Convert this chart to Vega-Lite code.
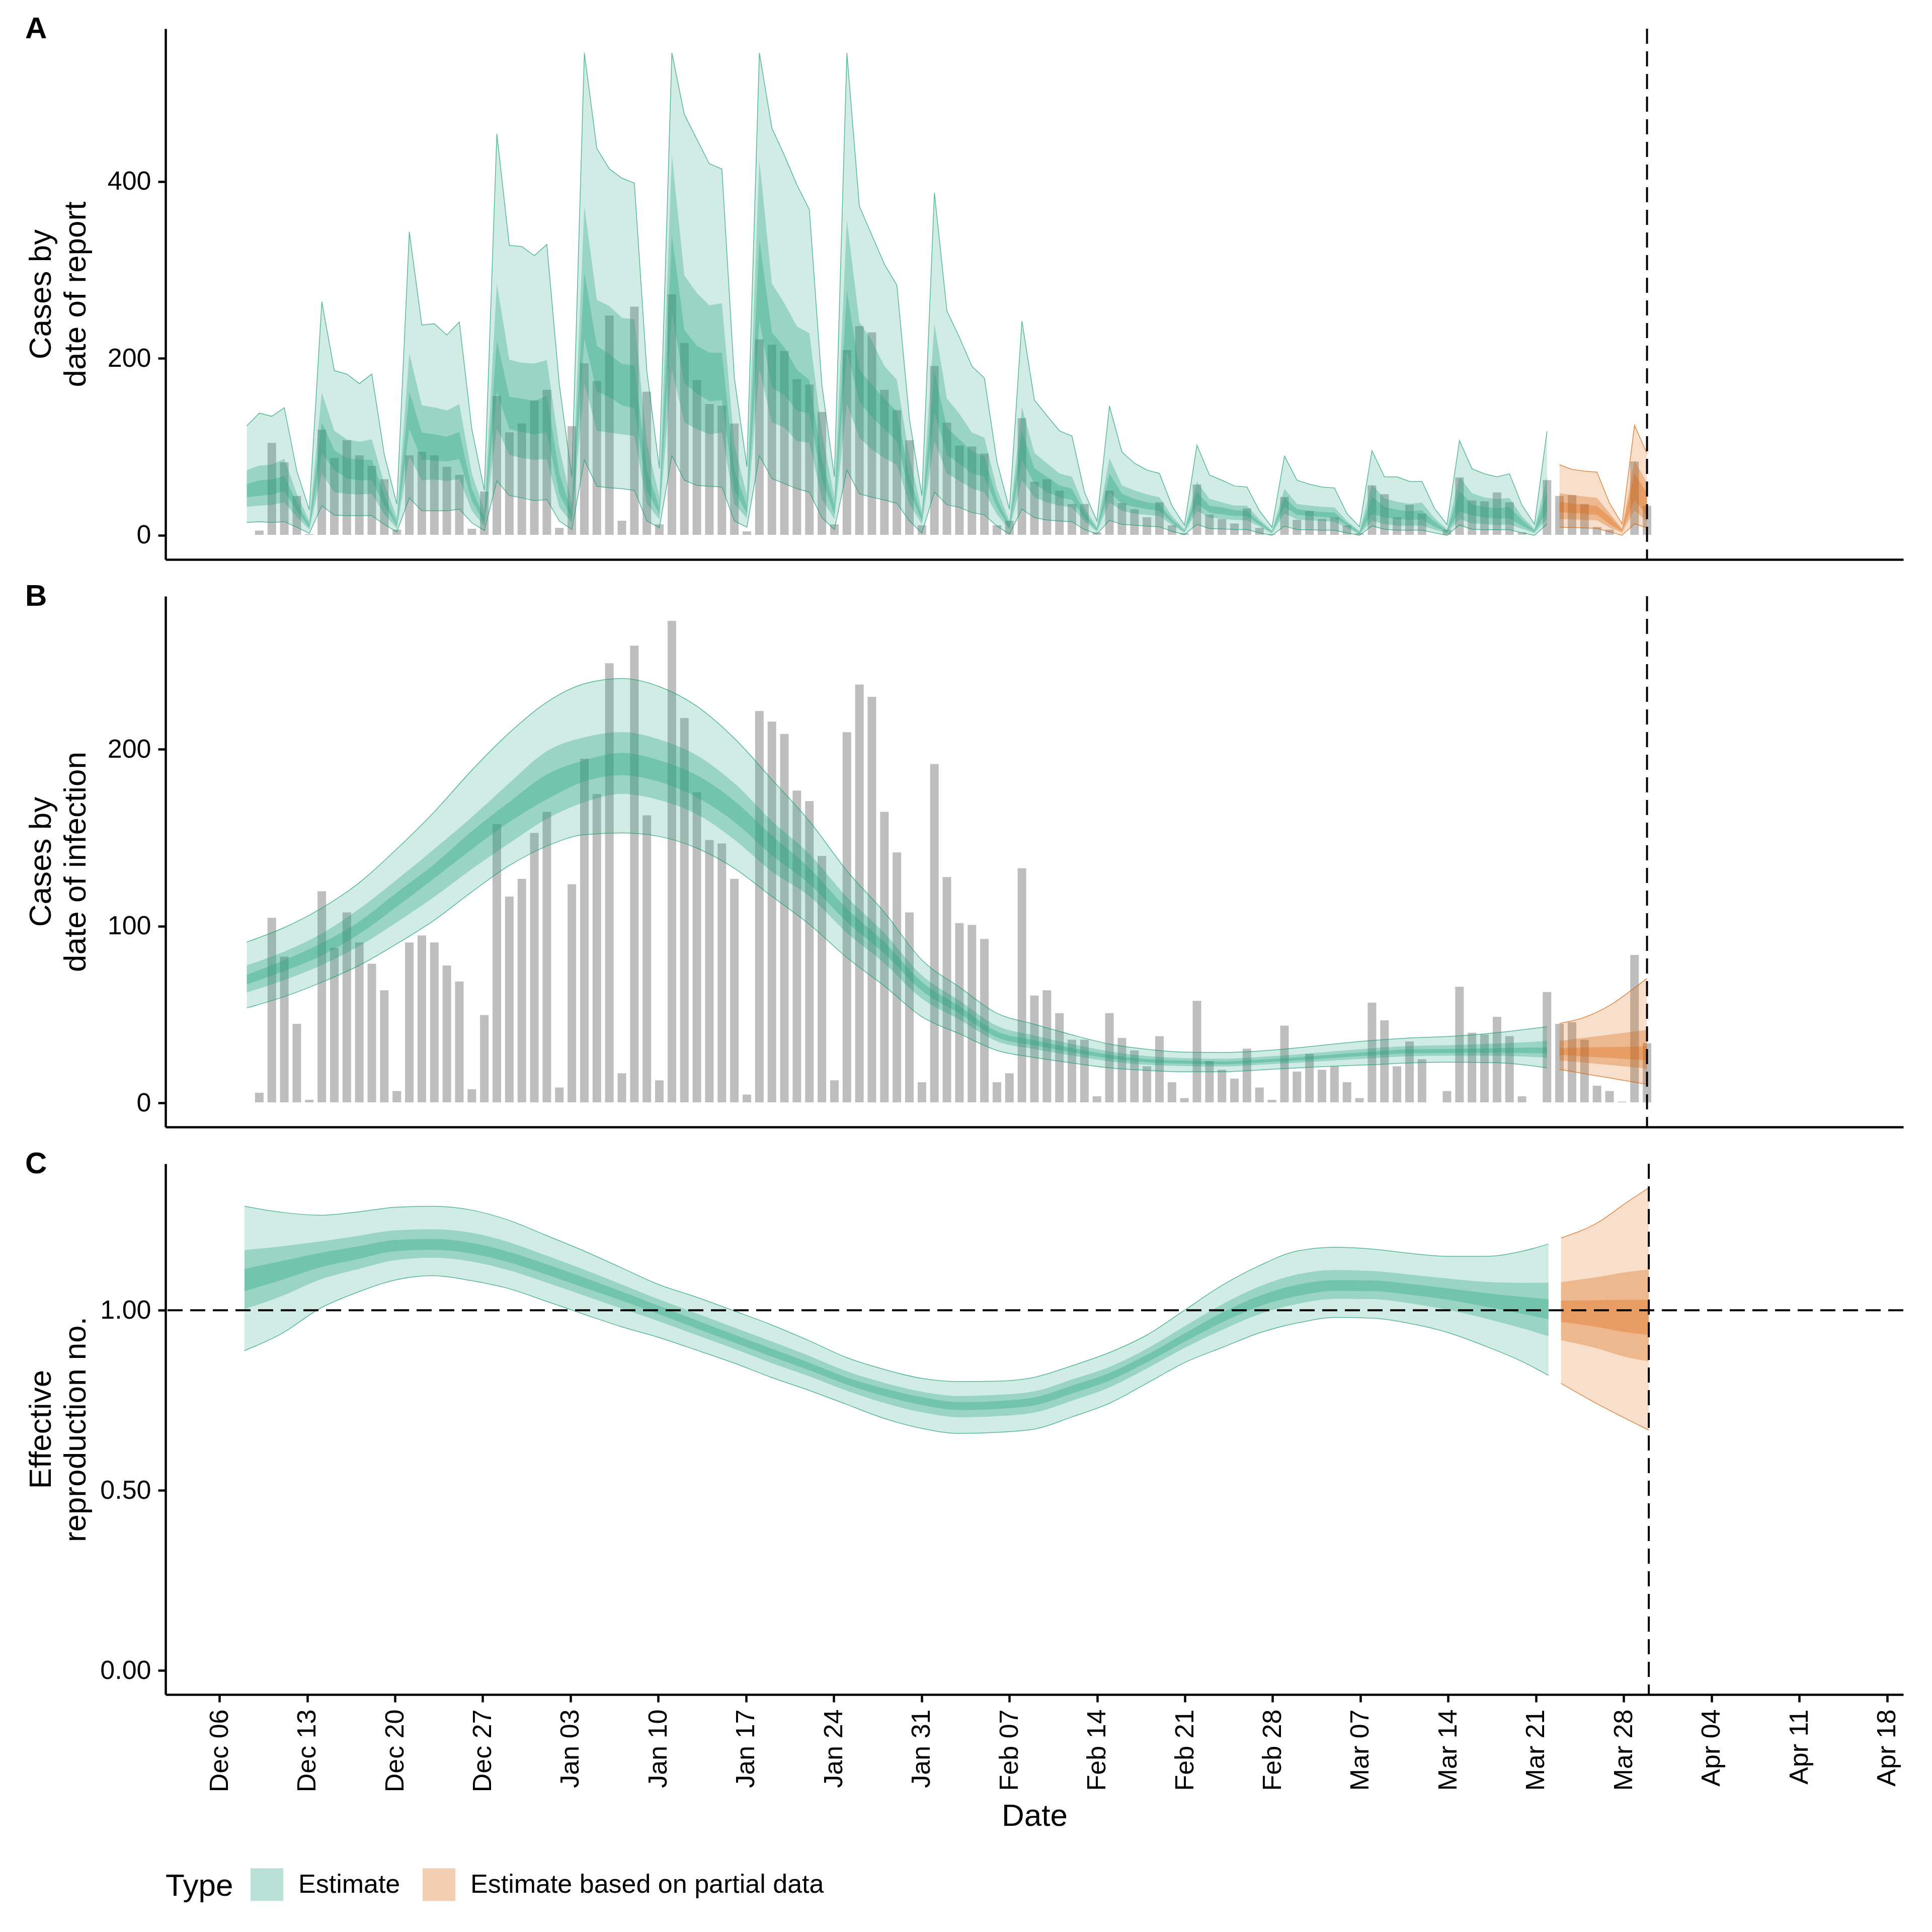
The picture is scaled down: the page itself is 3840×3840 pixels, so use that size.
{
  "$schema": "https://vega.github.io/schema/vega-lite/v6.json",
  "background": "white",
  "padding": {"left": 50, "top": 28, "right": 0, "bottom": 0},
  "config": {
    "font": "Liberation Sans",
    "view": {"stroke": null},
    "axis": {"domainColor": "black", "domainWidth": 4.5, "tickColor": "black", "tickWidth": 4.5, "tickSize": 15, "labelColor": "black", "labelFontSize": 52, "titleFontSize": 62, "titleFontWeight": "normal", "titleColor": "black", "grid": false, "labelPadding": 14},
    "title": {"color": "black"}
  },
  "resolve": {"scale": {"color": "independent"}},
  "spacing": 42,
  "datasets": {
    "last": [{"date": "2021-03-30"}],
    "one": [{"r": 1}],
    "bars": [
      {"date": "2020-12-09", "cases": 6}, {"date": "2020-12-10", "cases": 105}, {"date": "2020-12-11", "cases": 83}, {"date": "2020-12-12", "cases": 45}, {"date": "2020-12-13", "cases": 2}, {"date": "2020-12-14", "cases": 120}, {"date": "2020-12-15", "cases": 88}, {"date": "2020-12-16", "cases": 108}, {"date": "2020-12-17", "cases": 91}, {"date": "2020-12-18", "cases": 79}, {"date": "2020-12-19", "cases": 64}, {"date": "2020-12-20", "cases": 7}, {"date": "2020-12-21", "cases": 91}, {"date": "2020-12-22", "cases": 95}, {"date": "2020-12-23", "cases": 91}, {"date": "2020-12-24", "cases": 78}, {"date": "2020-12-25", "cases": 69}, {"date": "2020-12-26", "cases": 8}, {"date": "2020-12-27", "cases": 50}, {"date": "2020-12-28", "cases": 158}, {"date": "2020-12-29", "cases": 117}, {"date": "2020-12-30", "cases": 127}, {"date": "2020-12-31", "cases": 153},
      {"date": "2021-01-01", "cases": 165}, {"date": "2021-01-02", "cases": 9}, {"date": "2021-01-03", "cases": 124}, {"date": "2021-01-04", "cases": 195}, {"date": "2021-01-05", "cases": 175}, {"date": "2021-01-06", "cases": 249}, {"date": "2021-01-07", "cases": 17}, {"date": "2021-01-08", "cases": 259}, {"date": "2021-01-09", "cases": 163}, {"date": "2021-01-10", "cases": 13}, {"date": "2021-01-11", "cases": 273}, {"date": "2021-01-12", "cases": 218}, {"date": "2021-01-13", "cases": 176}, {"date": "2021-01-14", "cases": 149}, {"date": "2021-01-15", "cases": 147}, {"date": "2021-01-16", "cases": 127}, {"date": "2021-01-17", "cases": 5}, {"date": "2021-01-18", "cases": 222}, {"date": "2021-01-19", "cases": 216}, {"date": "2021-01-20", "cases": 209}, {"date": "2021-01-21", "cases": 177}, {"date": "2021-01-22", "cases": 171}, {"date": "2021-01-23", "cases": 140}, {"date": "2021-01-24", "cases": 13}, {"date": "2021-01-25", "cases": 210}, {"date": "2021-01-26", "cases": 237}, {"date": "2021-01-27", "cases": 230}, {"date": "2021-01-28", "cases": 165}, {"date": "2021-01-29", "cases": 142}, {"date": "2021-01-30", "cases": 108}, {"date": "2021-01-31", "cases": 12},
      {"date": "2021-02-01", "cases": 192}, {"date": "2021-02-02", "cases": 128}, {"date": "2021-02-03", "cases": 102}, {"date": "2021-02-04", "cases": 101}, {"date": "2021-02-05", "cases": 93}, {"date": "2021-02-06", "cases": 12}, {"date": "2021-02-07", "cases": 17}, {"date": "2021-02-08", "cases": 133}, {"date": "2021-02-09", "cases": 61}, {"date": "2021-02-10", "cases": 64}, {"date": "2021-02-11", "cases": 51}, {"date": "2021-02-12", "cases": 36}, {"date": "2021-02-13", "cases": 36}, {"date": "2021-02-14", "cases": 4}, {"date": "2021-02-15", "cases": 51}, {"date": "2021-02-16", "cases": 37}, {"date": "2021-02-17", "cases": 30}, {"date": "2021-02-18", "cases": 21}, {"date": "2021-02-19", "cases": 38}, {"date": "2021-02-20", "cases": 12}, {"date": "2021-02-21", "cases": 3}, {"date": "2021-02-22", "cases": 58}, {"date": "2021-02-23", "cases": 24}, {"date": "2021-02-24", "cases": 19}, {"date": "2021-02-25", "cases": 14}, {"date": "2021-02-26", "cases": 31}, {"date": "2021-02-27", "cases": 9}, {"date": "2021-02-28", "cases": 2},
      {"date": "2021-03-01", "cases": 44}, {"date": "2021-03-02", "cases": 18}, {"date": "2021-03-03", "cases": 28}, {"date": "2021-03-04", "cases": 19}, {"date": "2021-03-05", "cases": 21}, {"date": "2021-03-06", "cases": 12}, {"date": "2021-03-07", "cases": 3}, {"date": "2021-03-08", "cases": 57}, {"date": "2021-03-09", "cases": 47}, {"date": "2021-03-10", "cases": 21}, {"date": "2021-03-11", "cases": 35}, {"date": "2021-03-12", "cases": 25}, {"date": "2021-03-13", "cases": 0}, {"date": "2021-03-14", "cases": 7}, {"date": "2021-03-15", "cases": 66}, {"date": "2021-03-16", "cases": 40}, {"date": "2021-03-17", "cases": 39}, {"date": "2021-03-18", "cases": 49}, {"date": "2021-03-19", "cases": 38}, {"date": "2021-03-20", "cases": 4}, {"date": "2021-03-21", "cases": 0}, {"date": "2021-03-22", "cases": 63}, {"date": "2021-03-23", "cases": 45}, {"date": "2021-03-24", "cases": 46}, {"date": "2021-03-25", "cases": 36}, {"date": "2021-03-26", "cases": 10}, {"date": "2021-03-27", "cases": 7}, {"date": "2021-03-28", "cases": 1}, {"date": "2021-03-29", "cases": 84}, {"date": "2021-03-30", "cases": 34}
    ],
    "rep": [
      {"date": "2020-12-08", "type": "Estimate", "u90": 123.8, "u50": 73.8, "u20": 57.7, "l20": 43.1, "l50": 32.3, "l90": 14.6},
      {"date": "2020-12-09", "type": "Estimate", "u90": 138.1, "u50": 78.8, "u20": 62.3, "l20": 44.6, "l50": 33.5, "l90": 15.4},
      {"date": "2020-12-10", "type": "Estimate", "u90": 134.6, "u50": 80.0, "u20": 63.1, "l20": 46.2, "l50": 34.6, "l90": 14.6},
      {"date": "2020-12-11", "type": "Estimate", "u90": 144.2, "u50": 86.5, "u20": 66.9, "l20": 50.0, "l50": 37.3, "l90": 15.4},
      {"date": "2020-12-12", "type": "Estimate", "u90": 72.7, "u50": 46.9, "u20": 37.3, "l20": 27.7, "l50": 20.8, "l90": 9.2},
      {"date": "2020-12-13", "type": "Estimate", "u90": 28.8, "u50": 16.2, "u20": 12.3, "l20": 8.5, "l50": 6.5, "l90": 2.3},
      {"date": "2020-12-14", "type": "Estimate", "u90": 264.2, "u50": 161.5, "u20": 127.7, "l20": 93.1, "l50": 70.0, "l90": 33.5},
      {"date": "2020-12-15", "type": "Estimate", "u90": 186.2, "u50": 118.1, "u20": 96.2, "l20": 73.8, "l50": 48.8, "l90": 22.7},
      {"date": "2020-12-16", "type": "Estimate", "u90": 182.3, "u50": 108.5, "u20": 87.3, "l20": 64.2, "l50": 46.9, "l90": 22.3},
      {"date": "2020-12-17", "type": "Estimate", "u90": 171.5, "u50": 105.8, "u20": 85.4, "l20": 62.3, "l50": 46.2, "l90": 22.3},
      {"date": "2020-12-18", "type": "Estimate", "u90": 182.3, "u50": 108.5, "u20": 85.4, "l20": 62.3, "l50": 46.9, "l90": 22.3},
      {"date": "2020-12-19", "type": "Estimate", "u90": 91.2, "u50": 58.5, "u20": 45.0, "l20": 33.5, "l50": 23.8, "l90": 12.3},
      {"date": "2020-12-20", "type": "Estimate", "u90": 35.4, "u50": 20.0, "u20": 14.2, "l20": 10.4, "l50": 7.7, "l90": 3.8},
      {"date": "2020-12-21", "type": "Estimate", "u90": 343.1, "u50": 205.8, "u20": 162.3, "l20": 120.0, "l50": 89.2, "l90": 42.3},
      {"date": "2020-12-22", "type": "Estimate", "u90": 237.7, "u50": 146.9, "u20": 116.2, "l20": 85.4, "l50": 62.3, "l90": 27.7},
      {"date": "2020-12-23", "type": "Estimate", "u90": 239.2, "u50": 144.6, "u20": 114.2, "l20": 84.6, "l50": 63.1, "l90": 27.7},
      {"date": "2020-12-24", "type": "Estimate", "u90": 226.5, "u50": 141.2, "u20": 111.5, "l20": 83.5, "l50": 61.5, "l90": 27.7},
      {"date": "2020-12-25", "type": "Estimate", "u90": 241.2, "u50": 148.1, "u20": 116.9, "l20": 86.2, "l50": 63.5, "l90": 29.6},
      {"date": "2020-12-26", "type": "Estimate", "u90": 120.0, "u50": 70.0, "u20": 52.7, "l20": 39.2, "l50": 27.7, "l90": 14.2},
      {"date": "2020-12-27", "type": "Estimate", "u90": 50.8, "u50": 27.7, "u20": 20.0, "l20": 14.2, "l50": 10.4, "l90": 5.4},
      {"date": "2020-12-28", "type": "Estimate", "u90": 453.8, "u50": 284.6, "u20": 220.8, "l20": 162.3, "l50": 120.8, "l90": 61.5},
      {"date": "2020-12-29", "type": "Estimate", "u90": 327.7, "u50": 198.5, "u20": 156.5, "l20": 120.0, "l50": 91.2, "l90": 45.0},
      {"date": "2020-12-30", "type": "Estimate", "u90": 326.5, "u50": 195.0, "u20": 154.6, "l20": 116.9, "l50": 87.3, "l90": 42.3},
      {"date": "2020-12-31", "type": "Estimate", "u90": 316.2, "u50": 194.2, "u20": 151.9, "l20": 114.2, "l50": 85.4, "l90": 39.2},
      {"date": "2021-01-01", "type": "Estimate", "u90": 328.8, "u50": 198.1, "u20": 157.7, "l20": 116.2, "l50": 86.2, "l90": 40.4},
      {"date": "2021-01-02", "type": "Estimate", "u90": 170.0, "u50": 98.8, "u20": 70.0, "l20": 46.9, "l50": 31.5, "l90": 16.2},
      {"date": "2021-01-03", "type": "Estimate", "u90": 66.2, "u50": 35.4, "u20": 25.8, "l20": 19.2, "l50": 14.2, "l90": 6.5},
      {"date": "2021-01-04", "type": "Estimate", "u90": 545.4, "u50": 371.9, "u20": 296.9, "l20": 221.9, "l50": 171.9, "l90": 85.4},
      {"date": "2021-01-05", "type": "Estimate", "u90": 437.3, "u50": 266.2, "u20": 214.2, "l20": 162.3, "l50": 118.1, "l90": 55.4},
      {"date": "2021-01-06", "type": "Estimate", "u90": 414.2, "u50": 259.2, "u20": 204.6, "l20": 156.5, "l50": 116.2, "l90": 53.8},
      {"date": "2021-01-07", "type": "Estimate", "u90": 403.8, "u50": 245.8, "u20": 193.8, "l20": 146.9, "l50": 114.2, "l90": 52.7},
      {"date": "2021-01-08", "type": "Estimate", "u90": 398.1, "u50": 244.2, "u20": 191.9, "l20": 143.8, "l50": 112.3, "l90": 50.8},
      {"date": "2021-01-09", "type": "Estimate", "u90": 185.4, "u50": 104.6, "u20": 73.8, "l20": 50.8, "l50": 35.4, "l90": 16.2},
      {"date": "2021-01-10", "type": "Estimate", "u90": 75.8, "u50": 43.1, "u20": 31.5, "l20": 23.8, "l50": 18.1, "l90": 8.5},
      {"date": "2021-01-11", "type": "Estimate", "u90": 545.4, "u50": 429.6, "u20": 340.0, "l20": 251.5, "l50": 188.1, "l90": 90.0},
      {"date": "2021-01-12", "type": "Estimate", "u90": 475.8, "u50": 293.8, "u20": 232.3, "l20": 171.9, "l50": 127.7, "l90": 62.3},
      {"date": "2021-01-13", "type": "Estimate", "u90": 447.7, "u50": 273.8, "u20": 214.2, "l20": 160.4, "l50": 120.0, "l90": 56.5},
      {"date": "2021-01-14", "type": "Estimate", "u90": 420.0, "u50": 260.0, "u20": 206.5, "l20": 151.5, "l50": 114.2, "l90": 55.4},
      {"date": "2021-01-15", "type": "Estimate", "u90": 414.2, "u50": 262.3, "u20": 206.5, "l20": 152.7, "l50": 116.2, "l90": 54.6},
      {"date": "2021-01-16", "type": "Estimate", "u90": 177.7, "u50": 102.7, "u20": 73.8, "l20": 50.8, "l50": 35.4, "l90": 16.2},
      {"date": "2021-01-17", "type": "Estimate", "u90": 77.7, "u50": 45.0, "u20": 33.5, "l20": 24.6, "l50": 19.2, "l90": 9.2},
      {"date": "2021-01-18", "type": "Estimate", "u90": 545.4, "u50": 423.8, "u20": 334.6, "l20": 243.1, "l50": 188.1, "l90": 90.0},
      {"date": "2021-01-19", "type": "Estimate", "u90": 460.4, "u50": 284.6, "u20": 229.6, "l20": 166.9, "l50": 127.7, "l90": 64.2},
      {"date": "2021-01-20", "type": "Estimate", "u90": 429.6, "u50": 262.3, "u20": 212.3, "l20": 158.5, "l50": 121.9, "l90": 58.5},
      {"date": "2021-01-21", "type": "Estimate", "u90": 396.2, "u50": 236.2, "u20": 187.3, "l20": 141.2, "l50": 106.5, "l90": 52.7},
      {"date": "2021-01-22", "type": "Estimate", "u90": 368.1, "u50": 228.5, "u20": 175.8, "l20": 137.3, "l50": 104.6, "l90": 48.8},
      {"date": "2021-01-23", "type": "Estimate", "u90": 170.0, "u50": 116.2, "u20": 85.4, "l20": 62.3, "l50": 41.2, "l90": 20.0},
      {"date": "2021-01-24", "type": "Estimate", "u90": 66.2, "u50": 43.1, "u20": 33.5, "l20": 23.8, "l50": 18.1, "l90": 6.5},
      {"date": "2021-01-25", "type": "Estimate", "u90": 545.4, "u50": 356.5, "u20": 276.9, "l20": 208.5, "l50": 148.8, "l90": 73.8},
      {"date": "2021-01-26", "type": "Estimate", "u90": 371.9, "u50": 241.2, "u20": 187.3, "l20": 150.8, "l50": 110.4, "l90": 46.9},
      {"date": "2021-01-27", "type": "Estimate", "u90": 339.2, "u50": 220.0, "u20": 170.0, "l20": 133.5, "l50": 96.9, "l90": 43.1},
      {"date": "2021-01-28", "type": "Estimate", "u90": 306.5, "u50": 191.2, "u20": 154.6, "l20": 120.0, "l50": 87.3, "l90": 40.0},
      {"date": "2021-01-29", "type": "Estimate", "u90": 282.7, "u50": 175.8, "u20": 140.0, "l20": 106.5, "l50": 79.6, "l90": 36.2},
      {"date": "2021-01-30", "type": "Estimate", "u90": 131.5, "u50": 89.2, "u20": 66.2, "l20": 48.8, "l50": 35.4, "l90": 16.2},
      {"date": "2021-01-31", "type": "Estimate", "u90": 45.0, "u50": 27.7, "u20": 21.9, "l20": 16.2, "l50": 12.3, "l90": 2.7},
      {"date": "2021-02-01", "type": "Estimate", "u90": 387.3, "u50": 239.2, "u20": 185.4, "l20": 139.2, "l50": 106.5, "l90": 48.8},
      {"date": "2021-02-02", "type": "Estimate", "u90": 253.8, "u50": 154.6, "u20": 121.9, "l20": 91.2, "l50": 70.0, "l90": 34.6},
      {"date": "2021-02-03", "type": "Estimate", "u90": 223.8, "u50": 137.3, "u20": 108.5, "l20": 80.8, "l50": 61.5, "l90": 31.5},
      {"date": "2021-02-04", "type": "Estimate", "u90": 191.2, "u50": 116.2, "u20": 95.0, "l20": 70.0, "l50": 52.7, "l90": 25.8},
      {"date": "2021-02-05", "type": "Estimate", "u90": 177.7, "u50": 110.4, "u20": 89.2, "l20": 66.2, "l50": 48.8, "l90": 23.1},
      {"date": "2021-02-06", "type": "Estimate", "u90": 83.5, "u50": 52.7, "u20": 41.2, "l20": 31.5, "l50": 23.8, "l90": 10.4},
      {"date": "2021-02-07", "type": "Estimate", "u90": 29.6, "u50": 16.2, "u20": 12.3, "l20": 8.5, "l50": 6.2, "l90": 1.5},
      {"date": "2021-02-08", "type": "Estimate", "u90": 242.3, "u50": 145.0, "u20": 118.1, "l20": 85.4, "l50": 62.3, "l90": 29.6},
      {"date": "2021-02-09", "type": "Estimate", "u90": 152.7, "u50": 93.1, "u20": 75.8, "l20": 58.5, "l50": 43.1, "l90": 20.0},
      {"date": "2021-02-10", "type": "Estimate", "u90": 135.4, "u50": 81.5, "u20": 66.2, "l20": 48.8, "l50": 37.3, "l90": 17.3},
      {"date": "2021-02-11", "type": "Estimate", "u90": 118.1, "u50": 70.0, "u20": 56.5, "l20": 43.1, "l50": 33.5, "l90": 16.2},
      {"date": "2021-02-12", "type": "Estimate", "u90": 112.3, "u50": 66.2, "u20": 52.7, "l20": 40.0, "l50": 31.5, "l90": 15.4},
      {"date": "2021-02-13", "type": "Estimate", "u90": 48.8, "u50": 31.5, "u20": 25.8, "l20": 20.0, "l50": 16.2, "l90": 6.5},
      {"date": "2021-02-14", "type": "Estimate", "u90": 16.2, "u50": 9.2, "u20": 7.3, "l20": 5.4, "l50": 3.8, "l90": 1.5},
      {"date": "2021-02-15", "type": "Estimate", "u90": 146.2, "u50": 87.3, "u20": 70.0, "l20": 48.8, "l50": 37.3, "l90": 16.9},
      {"date": "2021-02-16", "type": "Estimate", "u90": 94.2, "u50": 56.5, "u20": 46.9, "l20": 35.4, "l50": 27.7, "l90": 12.3},
      {"date": "2021-02-17", "type": "Estimate", "u90": 81.5, "u50": 50.8, "u20": 41.2, "l20": 32.3, "l50": 24.6, "l90": 11.5},
      {"date": "2021-02-18", "type": "Estimate", "u90": 73.8, "u50": 46.2, "u20": 37.3, "l20": 29.6, "l50": 23.1, "l90": 10.4},
      {"date": "2021-02-19", "type": "Estimate", "u90": 70.0, "u50": 43.1, "u20": 35.4, "l20": 27.7, "l50": 21.9, "l90": 9.6},
      {"date": "2021-02-20", "type": "Estimate", "u90": 33.5, "u50": 21.9, "u20": 18.1, "l20": 14.2, "l50": 11.5, "l90": 4.6},
      {"date": "2021-02-21", "type": "Estimate", "u90": 11.5, "u50": 6.5, "u20": 5.4, "l20": 4.2, "l50": 3.1, "l90": 0.8},
      {"date": "2021-02-22", "type": "Estimate", "u90": 101.9, "u50": 60.4, "u20": 48.8, "l20": 35.4, "l50": 27.7, "l90": 12.3},
      {"date": "2021-02-23", "type": "Estimate", "u90": 68.1, "u50": 41.2, "u20": 33.5, "l20": 25.8, "l50": 20.0, "l90": 7.7},
      {"date": "2021-02-24", "type": "Estimate", "u90": 62.3, "u50": 37.3, "u20": 31.5, "l20": 23.8, "l50": 18.8, "l90": 7.3},
      {"date": "2021-02-25", "type": "Estimate", "u90": 55.8, "u50": 33.5, "u20": 28.5, "l20": 21.9, "l50": 17.3, "l90": 6.5},
      {"date": "2021-02-26", "type": "Estimate", "u90": 54.6, "u50": 33.5, "u20": 27.7, "l20": 21.9, "l50": 16.9, "l90": 6.5},
      {"date": "2021-02-27", "type": "Estimate", "u90": 27.7, "u50": 18.1, "u20": 15.4, "l20": 12.3, "l50": 10.0, "l90": 2.7},
      {"date": "2021-02-28", "type": "Estimate", "u90": 9.2, "u50": 5.4, "u20": 4.2, "l20": 3.1, "l50": 1.9, "l90": 0},
      {"date": "2021-03-01", "type": "Estimate", "u90": 89.5, "u50": 52.7, "u20": 42.3, "l20": 32.3, "l50": 24.6, "l90": 10.4},
      {"date": "2021-03-02", "type": "Estimate", "u90": 62.3, "u50": 35.4, "u20": 29.6, "l20": 23.1, "l50": 18.1, "l90": 6.5},
      {"date": "2021-03-03", "type": "Estimate", "u90": 57.7, "u50": 33.5, "u20": 27.7, "l20": 21.9, "l50": 16.9, "l90": 6.2},
      {"date": "2021-03-04", "type": "Estimate", "u90": 54.6, "u50": 32.3, "u20": 26.5, "l20": 20.8, "l50": 16.2, "l90": 5.8},
      {"date": "2021-03-05", "type": "Estimate", "u90": 53.5, "u50": 31.5, "u20": 25.8, "l20": 20.0, "l50": 15.4, "l90": 5.8},
      {"date": "2021-03-06", "type": "Estimate", "u90": 24.6, "u50": 16.2, "u20": 13.8, "l20": 11.2, "l50": 8.5, "l90": 2.7},
      {"date": "2021-03-07", "type": "Estimate", "u90": 9.7, "u50": 4.9, "u20": 3.5, "l20": 1.9, "l50": 1.0, "l90": 0},
      {"date": "2021-03-08", "type": "Estimate", "u90": 95.7, "u50": 57.4, "u20": 43.8, "l20": 24.3, "l50": 16.5, "l90": 10.7},
      {"date": "2021-03-09", "type": "Estimate", "u90": 66.1, "u50": 41.8, "u20": 32.1, "l20": 20.4, "l50": 12.6, "l90": 6.8},
      {"date": "2021-03-10", "type": "Estimate", "u90": 66.1, "u50": 37.9, "u20": 29.2, "l20": 18.5, "l50": 11.1, "l90": 5.8},
      {"date": "2021-03-11", "type": "Estimate", "u90": 60.9, "u50": 35.6, "u20": 27.2, "l20": 17.5, "l50": 10.7, "l90": 5.8},
      {"date": "2021-03-12", "type": "Estimate", "u90": 60.9, "u50": 37.0, "u20": 28.2, "l20": 18.1, "l50": 11.1, "l90": 5.8},
      {"date": "2021-03-13", "type": "Estimate", "u90": 30.5, "u50": 19.5, "u20": 15.6, "l20": 9.7, "l50": 6.4, "l90": 2.9},
      {"date": "2021-03-14", "type": "Estimate", "u90": 12.1, "u50": 6.8, "u20": 5.3, "l20": 3.5, "l50": 2.3, "l90": 0},
      {"date": "2021-03-15", "type": "Estimate", "u90": 107.0, "u50": 66.1, "u20": 50.0, "l20": 27.2, "l50": 18.5, "l90": 11.7},
      {"date": "2021-03-16", "type": "Estimate", "u90": 75.3, "u50": 47.7, "u20": 35.0, "l20": 22.4, "l50": 13.6, "l90": 6.8},
      {"date": "2021-03-17", "type": "Estimate", "u90": 69.5, "u50": 42.8, "u20": 32.1, "l20": 20.4, "l50": 12.6, "l90": 6.4},
      {"date": "2021-03-18", "type": "Estimate", "u90": 66.1, "u50": 40.9, "u20": 30.5, "l20": 18.9, "l50": 11.7, "l90": 6.4},
      {"date": "2021-03-19", "type": "Estimate", "u90": 69.5, "u50": 42.2, "u20": 32.1, "l20": 19.5, "l50": 12.3, "l90": 6.4},
      {"date": "2021-03-20", "type": "Estimate", "u90": 34.0, "u50": 21.4, "u20": 17.5, "l20": 10.7, "l50": 7.2, "l90": 2.9},
      {"date": "2021-03-21", "type": "Estimate", "u90": 12.6, "u50": 7.2, "u20": 5.6, "l20": 3.9, "l50": 2.5, "l90": 0},
      {"date": "2021-03-22", "type": "Estimate", "u90": 117.7, "u50": 66.1, "u20": 49.6, "l20": 26.3, "l50": 18.5, "l90": 12.6},
      {"date": "2021-03-23", "type": "Estimate based on partial data", "u90": 79.8, "u50": 47.7, "u20": 37.9, "l20": 26.3, "l50": 18.5, "l90": 9.1},
      {"date": "2021-03-24", "type": "Estimate based on partial data", "u90": 74.5, "u50": 45.7, "u20": 36.0, "l20": 25.3, "l50": 18.1, "l90": 8.8},
      {"date": "2021-03-25", "type": "Estimate based on partial data", "u90": 72.6, "u50": 43.8, "u20": 34.4, "l20": 24.3, "l50": 17.5, "l90": 8.4},
      {"date": "2021-03-26", "type": "Estimate based on partial data", "u90": 71.4, "u50": 42.2, "u20": 33.1, "l20": 23.3, "l50": 16.9, "l90": 7.8},
      {"date": "2021-03-27", "type": "Estimate based on partial data", "u90": 36.4, "u50": 25.3, "u20": 21.4, "l20": 12.6, "l50": 8.8, "l90": 3.9},
      {"date": "2021-03-28", "type": "Estimate based on partial data", "u90": 13.0, "u50": 7.8, "u20": 6.4, "l20": 4.5, "l50": 2.9, "l90": 0},
      {"date": "2021-03-29", "type": "Estimate based on partial data", "u90": 124.5, "u50": 84.6, "u20": 70.0, "l20": 39.9, "l50": 28.2, "l90": 13.0},
      {"date": "2021-03-30", "type": "Estimate based on partial data", "u90": 92.4, "u50": 59.3, "u20": 47.7, "l20": 22.4, "l50": 15.6, "l90": 8.4}
    ],
    "inf": [
      {"date": "2020-12-08", "type": "Estimate", "u90": 91.0, "u50": 77.8, "u20": 72.5, "l20": 67.1, "l50": 62.5, "l90": 53.7},
      {"date": "2020-12-11", "type": "Estimate", "u90": 99.2, "u50": 85.6, "u20": 80.8, "l20": 74.6, "l50": 69.5, "l90": 60.1},
      {"date": "2020-12-14", "type": "Estimate", "u90": 110.2, "u50": 95.8, "u20": 90.4, "l20": 83.4, "l50": 78.0, "l90": 68.3},
      {"date": "2020-12-17", "type": "Estimate", "u90": 124.6, "u50": 109.8, "u20": 102.6, "l20": 95.6, "l50": 88.8, "l90": 77.8},
      {"date": "2020-12-20", "type": "Estimate", "u90": 143.7, "u50": 126.3, "u20": 119.0, "l20": 111.0, "l50": 102.2, "l90": 90.0},
      {"date": "2020-12-23", "type": "Estimate", "u90": 164.7, "u50": 143.7, "u20": 135.1, "l20": 127.1, "l50": 116.6, "l90": 103.4},
      {"date": "2020-12-26", "type": "Estimate", "u90": 188.2, "u50": 161.7, "u20": 153.7, "l20": 143.5, "l50": 132.3, "l90": 119.4},
      {"date": "2020-12-29", "type": "Estimate", "u90": 209.4, "u50": 181.0, "u20": 170.3, "l20": 158.9, "l50": 146.9, "l90": 134.3},
      {"date": "2021-01-01", "type": "Estimate", "u90": 226.7, "u50": 199.0, "u20": 185.8, "l20": 171.7, "l50": 160.7, "l90": 145.3},
      {"date": "2021-01-04", "type": "Estimate", "u90": 237.1, "u50": 206.8, "u20": 193.8, "l20": 181.8, "l50": 170.1, "l90": 151.7},
      {"date": "2021-01-07", "type": "Estimate", "u90": 240.1, "u50": 209.8, "u20": 198.0, "l20": 185.4, "l50": 174.8, "l90": 152.7},
      {"date": "2021-01-10", "type": "Estimate", "u90": 235.5, "u50": 205.6, "u20": 193.8, "l20": 181.6, "l50": 171.3, "l90": 150.7},
      {"date": "2021-01-13", "type": "Estimate", "u90": 224.4, "u50": 196.6, "u20": 185.4, "l20": 172.9, "l50": 163.3, "l90": 144.1},
      {"date": "2021-01-16", "type": "Estimate", "u90": 206.2, "u50": 180.8, "u20": 170.9, "l20": 158.9, "l50": 148.9, "l90": 132.7},
      {"date": "2021-01-19", "type": "Estimate", "u90": 183.0, "u50": 159.5, "u20": 151.3, "l20": 140.1, "l50": 130.9, "l90": 116.8},
      {"date": "2021-01-22", "type": "Estimate", "u90": 159.4, "u50": 140.8, "u20": 132.8, "l20": 123.8, "l50": 116.9, "l90": 101.0},
      {"date": "2021-01-25", "type": "Estimate", "u90": 131.3, "u50": 116.4, "u20": 109.9, "l20": 102.3, "l50": 96.2, "l90": 82.2},
      {"date": "2021-01-28", "type": "Estimate", "u90": 107.8, "u50": 96.0, "u20": 90.9, "l20": 84.5, "l50": 78.9, "l90": 66.1},
      {"date": "2021-01-31", "type": "Estimate", "u90": 80.8, "u50": 72.1, "u20": 68.4, "l20": 63.4, "l50": 59.0, "l90": 48.7},
      {"date": "2021-02-03", "type": "Estimate", "u90": 65.5, "u50": 57.9, "u20": 54.7, "l20": 50.6, "l50": 47.1, "l90": 39.1},
      {"date": "2021-02-06", "type": "Estimate", "u90": 50.7, "u50": 43.6, "u20": 40.4, "l20": 37.1, "l50": 34.9, "l90": 29.7},
      {"date": "2021-02-09", "type": "Estimate", "u90": 44.5, "u50": 38.1, "u20": 35.4, "l20": 32.5, "l50": 30.4, "l90": 25.7},
      {"date": "2021-02-12", "type": "Estimate", "u90": 38.5, "u50": 33.3, "u20": 31.1, "l20": 28.6, "l50": 26.8, "l90": 22.6},
      {"date": "2021-02-15", "type": "Estimate", "u90": 33.3, "u50": 29.1, "u20": 27.2, "l20": 25.1, "l50": 23.5, "l90": 19.8},
      {"date": "2021-02-18", "type": "Estimate", "u90": 30.3, "u50": 26.5, "u20": 24.8, "l20": 23.0, "l50": 21.6, "l90": 18.4},
      {"date": "2021-02-21", "type": "Estimate", "u90": 28.7, "u50": 25.3, "u20": 23.9, "l20": 22.2, "l50": 20.8, "l90": 17.6},
      {"date": "2021-02-24", "type": "Estimate", "u90": 28.5, "u50": 25.0, "u20": 23.5, "l20": 21.8, "l50": 20.6, "l90": 17.6},
      {"date": "2021-02-27", "type": "Estimate", "u90": 29.3, "u50": 26.0, "u20": 24.5, "l20": 22.8, "l50": 21.6, "l90": 18.6},
      {"date": "2021-03-02", "type": "Estimate", "u90": 31.1, "u50": 27.4, "u20": 25.8, "l20": 24.0, "l50": 22.7, "l90": 19.8},
      {"date": "2021-03-05", "type": "Estimate", "u90": 33.3, "u50": 29.2, "u20": 27.4, "l20": 25.5, "l50": 24.0, "l90": 20.8},
      {"date": "2021-03-08", "type": "Estimate", "u90": 35.3, "u50": 30.9, "u20": 29.0, "l20": 26.9, "l50": 25.3, "l90": 21.6},
      {"date": "2021-03-11", "type": "Estimate", "u90": 36.7, "u50": 32.2, "u20": 30.3, "l20": 28.1, "l50": 26.4, "l90": 22.6},
      {"date": "2021-03-14", "type": "Estimate", "u90": 37.5, "u50": 32.6, "u20": 30.5, "l20": 28.2, "l50": 26.7, "l90": 23.0},
      {"date": "2021-03-18", "type": "Estimate", "u90": 39.7, "u50": 33.6, "u20": 31.0, "l20": 28.4, "l50": 26.7, "l90": 22.7},
      {"date": "2021-03-22", "type": "Estimate", "u90": 43.1, "u50": 35.0, "u20": 31.5, "l20": 27.9, "l50": 25.5, "l90": 19.8},
      {"date": "2021-03-23", "type": "Estimate based on partial data", "u90": 45.0, "u50": 35.1, "u20": 31.1, "l20": 27.2, "l50": 24.1, "l90": 18.9},
      {"date": "2021-03-25", "type": "Estimate based on partial data", "u90": 48.4, "u50": 36.9, "u20": 31.3, "l20": 26.3, "l50": 22.8, "l90": 16.5},
      {"date": "2021-03-27", "type": "Estimate based on partial data", "u90": 55.1, "u50": 38.6, "u20": 31.6, "l20": 25.4, "l50": 21.4, "l90": 14.1},
      {"date": "2021-03-29", "type": "Estimate based on partial data", "u90": 65.1, "u50": 40.4, "u20": 31.8, "l20": 24.5, "l50": 20.1, "l90": 11.7},
      {"date": "2021-03-30", "type": "Estimate based on partial data", "u90": 70.5, "u50": 41.3, "u20": 31.9, "l20": 24.1, "l50": 19.4, "l90": 10.5}
    ],
    "rt": [
      {"date": "2020-12-08", "type": "Estimate", "u90": 1.289, "u50": 1.167, "u20": 1.115, "l20": 1.053, "l50": 1.003, "l90": 0.888},
      {"date": "2020-12-11", "type": "Estimate", "u90": 1.272, "u50": 1.178, "u20": 1.137, "l20": 1.085, "l50": 1.040, "l90": 0.936},
      {"date": "2020-12-14", "type": "Estimate", "u90": 1.264, "u50": 1.191, "u20": 1.159, "l20": 1.119, "l50": 1.085, "l90": 1.005},
      {"date": "2020-12-17", "type": "Estimate", "u90": 1.273, "u50": 1.206, "u20": 1.177, "l20": 1.142, "l50": 1.114, "l90": 1.050},
      {"date": "2020-12-20", "type": "Estimate", "u90": 1.286, "u50": 1.222, "u20": 1.195, "l20": 1.164, "l50": 1.139, "l90": 1.084},
      {"date": "2020-12-23", "type": "Estimate", "u90": 1.289, "u50": 1.225, "u20": 1.198, "l20": 1.168, "l50": 1.146, "l90": 1.096},
      {"date": "2020-12-26", "type": "Estimate", "u90": 1.279, "u50": 1.216, "u20": 1.188, "l20": 1.158, "l50": 1.136, "l90": 1.083},
      {"date": "2020-12-29", "type": "Estimate", "u90": 1.251, "u50": 1.190, "u20": 1.163, "l20": 1.134, "l50": 1.112, "l90": 1.061},
      {"date": "2021-01-01", "type": "Estimate", "u90": 1.209, "u50": 1.153, "u20": 1.129, "l20": 1.100, "l50": 1.078, "l90": 1.026},
      {"date": "2021-01-04", "type": "Estimate", "u90": 1.166, "u50": 1.114, "u20": 1.092, "l20": 1.064, "l50": 1.042, "l90": 0.990},
      {"date": "2021-01-07", "type": "Estimate", "u90": 1.119, "u50": 1.073, "u20": 1.053, "l20": 1.028, "l50": 1.006, "l90": 0.955},
      {"date": "2021-01-10", "type": "Estimate", "u90": 1.072, "u50": 1.031, "u20": 1.013, "l20": 0.990, "l50": 0.970, "l90": 0.925},
      {"date": "2021-01-13", "type": "Estimate", "u90": 1.037, "u50": 0.992, "u20": 0.973, "l20": 0.950, "l50": 0.932, "l90": 0.890},
      {"date": "2021-01-16", "type": "Estimate", "u90": 0.999, "u50": 0.953, "u20": 0.933, "l20": 0.911, "l50": 0.894, "l90": 0.854},
      {"date": "2021-01-19", "type": "Estimate", "u90": 0.960, "u50": 0.914, "u20": 0.894, "l20": 0.872, "l50": 0.854, "l90": 0.814},
      {"date": "2021-01-22", "type": "Estimate", "u90": 0.916, "u50": 0.874, "u20": 0.855, "l20": 0.834, "l50": 0.817, "l90": 0.778},
      {"date": "2021-01-25", "type": "Estimate", "u90": 0.869, "u50": 0.831, "u20": 0.814, "l20": 0.794, "l50": 0.777, "l90": 0.739},
      {"date": "2021-01-28", "type": "Estimate", "u90": 0.836, "u50": 0.799, "u20": 0.783, "l20": 0.762, "l50": 0.743, "l90": 0.700},
      {"date": "2021-01-31", "type": "Estimate", "u90": 0.811, "u50": 0.774, "u20": 0.759, "l20": 0.737, "l50": 0.717, "l90": 0.672},
      {"date": "2021-02-03", "type": "Estimate", "u90": 0.802, "u50": 0.762, "u20": 0.745, "l20": 0.723, "l50": 0.703, "l90": 0.658},
      {"date": "2021-02-06", "type": "Estimate", "u90": 0.803, "u50": 0.765, "u20": 0.748, "l20": 0.726, "l50": 0.706, "l90": 0.661},
      {"date": "2021-02-09", "type": "Estimate", "u90": 0.814, "u50": 0.775, "u20": 0.758, "l20": 0.736, "l50": 0.716, "l90": 0.670},
      {"date": "2021-02-12", "type": "Estimate", "u90": 0.846, "u50": 0.808, "u20": 0.791, "l20": 0.769, "l50": 0.749, "l90": 0.704},
      {"date": "2021-02-15", "type": "Estimate", "u90": 0.883, "u50": 0.843, "u20": 0.826, "l20": 0.805, "l50": 0.786, "l90": 0.742},
      {"date": "2021-02-18", "type": "Estimate", "u90": 0.932, "u50": 0.894, "u20": 0.877, "l20": 0.856, "l50": 0.839, "l90": 0.798},
      {"date": "2021-02-21", "type": "Estimate", "u90": 1.001, "u50": 0.956, "u20": 0.936, "l20": 0.913, "l50": 0.896, "l90": 0.855},
      {"date": "2021-02-24", "type": "Estimate", "u90": 1.070, "u50": 1.017, "u20": 0.994, "l20": 0.967, "l50": 0.946, "l90": 0.897},
      {"date": "2021-02-27", "type": "Estimate", "u90": 1.125, "u50": 1.067, "u20": 1.041, "l20": 1.012, "l50": 0.990, "l90": 0.938},
      {"date": "2021-03-02", "type": "Estimate", "u90": 1.165, "u50": 1.100, "u20": 1.071, "l20": 1.040, "l50": 1.018, "l90": 0.965},
      {"date": "2021-03-05", "type": "Estimate", "u90": 1.175, "u50": 1.112, "u20": 1.084, "l20": 1.054, "l50": 1.032, "l90": 0.980},
      {"date": "2021-03-08", "type": "Estimate", "u90": 1.170, "u50": 1.109, "u20": 1.083, "l20": 1.053, "l50": 1.031, "l90": 0.978},
      {"date": "2021-03-11", "type": "Estimate", "u90": 1.158, "u50": 1.099, "u20": 1.073, "l20": 1.043, "l50": 1.019, "l90": 0.963},
      {"date": "2021-03-14", "type": "Estimate", "u90": 1.150, "u50": 1.088, "u20": 1.061, "l20": 1.029, "l50": 1.001, "l90": 0.938},
      {"date": "2021-03-17", "type": "Estimate", "u90": 1.150, "u50": 1.079, "u20": 1.048, "l20": 1.010, "l50": 0.977, "l90": 0.900},
      {"date": "2021-03-20", "type": "Estimate", "u90": 1.165, "u50": 1.076, "u20": 1.037, "l20": 0.990, "l50": 0.949, "l90": 0.856},
      {"date": "2021-03-22", "type": "Estimate", "u90": 1.184, "u50": 1.077, "u20": 1.031, "l20": 0.975, "l50": 0.928, "l90": 0.819},
      {"date": "2021-03-23", "type": "Estimate based on partial data", "u90": 1.201, "u50": 1.078, "u20": 1.027, "l20": 0.968, "l50": 0.917, "l90": 0.797},
      {"date": "2021-03-26", "type": "Estimate based on partial data", "u90": 1.245, "u50": 1.093, "u20": 1.028, "l20": 0.953, "l50": 0.893, "l90": 0.738},
      {"date": "2021-03-28", "type": "Estimate based on partial data", "u90": 1.294, "u50": 1.105, "u20": 1.029, "l20": 0.940, "l50": 0.872, "l90": 0.702},
      {"date": "2021-03-30", "type": "Estimate based on partial data", "u90": 1.340, "u50": 1.113, "u20": 1.029, "l20": 0.932, "l50": 0.858, "l90": 0.667}
    ]
  },
  "vconcat": [
    {
      "width": 3454,
      "height": 1055,
      "title": {"text": "A", "anchor": "start", "frame": "bounds", "fontSize": 60, "fontWeight": "bold", "offset": -34},
      "layer": [
        {
          "data": {"name": "bars"},
          "mark": {"type": "bar", "size": 19, "fill": "#bebebe", "stroke": "white", "strokeWidth": 2},
          "encoding": {
            "x": {"field": "date", "type": "temporal", "scale": {"type": "utc", "domain": [{"year": 2020, "month": 12, "date": 1, "hours": 16, "minutes": 48, "utc": true}, {"year": 2021, "month": 4, "date": 19, "hours": 7, "minutes": 12, "utc": true}]}, "axis": {"labels": false, "ticks": false, "title": null}},
            "y": {"field": "cases", "type": "quantitative", "scale": {"domain": [-27.3, 572.7], "nice": false, "zero": false}, "axis": {"values": [0, 200, 400], "title": ["Cases by", "date of report"], "titleX": -248, "titleY": 527.5, "titleAngle": 270, "titleAlign": "center", "titleBaseline": "middle", "titleLineHeight": 69}}
          }
        },
        {
          "data": {"name": "rep"},
          "mark": {"type": "area", "opacity": 0.2},
          "encoding": {
            "x": {"field": "date", "type": "temporal", "scale": {"type": "utc", "domain": [{"year": 2020, "month": 12, "date": 1, "hours": 16, "minutes": 48, "utc": true}, {"year": 2021, "month": 4, "date": 19, "hours": 7, "minutes": 12, "utc": true}]}, "axis": {"labels": false, "ticks": false, "title": null}},
            "y": {"field": "u90", "type": "quantitative", "scale": {"domain": [-27.3, 572.7], "nice": false, "zero": false}, "axis": {"values": [0, 200, 400], "title": ["Cases by", "date of report"], "titleX": -248, "titleY": 527.5, "titleAngle": 270, "titleAlign": "center", "titleBaseline": "middle", "titleLineHeight": 69}},
            "y2": {"field": "l90"},
            "color": {"field": "type", "type": "nominal", "scale": {"domain": ["Estimate", "Estimate based on partial data"], "range": ["#1b9e77", "#d95f02"]}, "legend": null}
          }
        },
        {
          "data": {"name": "rep"},
          "mark": {"type": "area", "opacity": 0.3},
          "encoding": {
            "x": {"field": "date", "type": "temporal", "scale": {"type": "utc", "domain": [{"year": 2020, "month": 12, "date": 1, "hours": 16, "minutes": 48, "utc": true}, {"year": 2021, "month": 4, "date": 19, "hours": 7, "minutes": 12, "utc": true}]}, "axis": {"labels": false, "ticks": false, "title": null}},
            "y": {"field": "u50", "type": "quantitative", "scale": {"domain": [-27.3, 572.7], "nice": false, "zero": false}, "axis": {"values": [0, 200, 400], "title": ["Cases by", "date of report"], "titleX": -248, "titleY": 527.5, "titleAngle": 270, "titleAlign": "center", "titleBaseline": "middle", "titleLineHeight": 69}},
            "y2": {"field": "l50"},
            "color": {"field": "type", "type": "nominal", "scale": {"domain": ["Estimate", "Estimate based on partial data"], "range": ["#1b9e77", "#d95f02"]}, "legend": null}
          }
        },
        {
          "data": {"name": "rep"},
          "mark": {"type": "area", "opacity": 0.3},
          "encoding": {
            "x": {"field": "date", "type": "temporal", "scale": {"type": "utc", "domain": [{"year": 2020, "month": 12, "date": 1, "hours": 16, "minutes": 48, "utc": true}, {"year": 2021, "month": 4, "date": 19, "hours": 7, "minutes": 12, "utc": true}]}, "axis": {"labels": false, "ticks": false, "title": null}},
            "y": {"field": "u20", "type": "quantitative", "scale": {"domain": [-27.3, 572.7], "nice": false, "zero": false}, "axis": {"values": [0, 200, 400], "title": ["Cases by", "date of report"], "titleX": -248, "titleY": 527.5, "titleAngle": 270, "titleAlign": "center", "titleBaseline": "middle", "titleLineHeight": 69}},
            "y2": {"field": "l20"},
            "color": {"field": "type", "type": "nominal", "scale": {"domain": ["Estimate", "Estimate based on partial data"], "range": ["#1b9e77", "#d95f02"]}, "legend": null}
          }
        },
        {
          "data": {"name": "rep"},
          "mark": {"type": "line", "strokeWidth": 1.5, "opacity": 0.7},
          "encoding": {
            "x": {"field": "date", "type": "temporal", "scale": {"type": "utc", "domain": [{"year": 2020, "month": 12, "date": 1, "hours": 16, "minutes": 48, "utc": true}, {"year": 2021, "month": 4, "date": 19, "hours": 7, "minutes": 12, "utc": true}]}, "axis": {"labels": false, "ticks": false, "title": null}},
            "y": {"field": "u90", "type": "quantitative", "scale": {"domain": [-27.3, 572.7], "nice": false, "zero": false}, "axis": {"values": [0, 200, 400], "title": ["Cases by", "date of report"], "titleX": -248, "titleY": 527.5, "titleAngle": 270, "titleAlign": "center", "titleBaseline": "middle", "titleLineHeight": 69}},
            "color": {"field": "type", "type": "nominal", "scale": {"domain": ["Estimate", "Estimate based on partial data"], "range": ["#1b9e77", "#d95f02"]}, "legend": null}
          }
        },
        {
          "data": {"name": "rep"},
          "mark": {"type": "line", "strokeWidth": 1.5, "opacity": 0.7},
          "encoding": {
            "x": {"field": "date", "type": "temporal", "scale": {"type": "utc", "domain": [{"year": 2020, "month": 12, "date": 1, "hours": 16, "minutes": 48, "utc": true}, {"year": 2021, "month": 4, "date": 19, "hours": 7, "minutes": 12, "utc": true}]}, "axis": {"labels": false, "ticks": false, "title": null}},
            "y": {"field": "l90", "type": "quantitative", "scale": {"domain": [-27.3, 572.7], "nice": false, "zero": false}, "axis": {"values": [0, 200, 400], "title": ["Cases by", "date of report"], "titleX": -248, "titleY": 527.5, "titleAngle": 270, "titleAlign": "center", "titleBaseline": "middle", "titleLineHeight": 69}},
            "color": {"field": "type", "type": "nominal", "scale": {"domain": ["Estimate", "Estimate based on partial data"], "range": ["#1b9e77", "#d95f02"]}, "legend": null}
          }
        },
        {
          "data": {"name": "last"},
          "mark": {"type": "rule", "color": "black", "strokeWidth": 4, "strokeDash": [30, 15]},
          "encoding": {"x": {"field": "date", "type": "temporal", "scale": {"type": "utc", "domain": [{"year": 2020, "month": 12, "date": 1, "hours": 16, "minutes": 48, "utc": true}, {"year": 2021, "month": 4, "date": 19, "hours": 7, "minutes": 12, "utc": true}]}, "axis": {"labels": false, "ticks": false, "title": null}}}
        }
      ]
    },
    {
      "width": 3454,
      "height": 1055,
      "title": {"text": "B", "anchor": "start", "frame": "bounds", "fontSize": 60, "fontWeight": "bold", "offset": -34},
      "layer": [
        {
          "data": {"name": "bars"},
          "mark": {"type": "bar", "size": 19, "fill": "#bebebe", "stroke": "white", "strokeWidth": 2},
          "encoding": {
            "x": {"field": "date", "type": "temporal", "scale": {"type": "utc", "domain": [{"year": 2020, "month": 12, "date": 1, "hours": 16, "minutes": 48, "utc": true}, {"year": 2021, "month": 4, "date": 19, "hours": 7, "minutes": 12, "utc": true}]}, "axis": {"labels": false, "ticks": false, "title": null}},
            "y": {"field": "cases", "type": "quantitative", "scale": {"domain": [-13.65, 286.65], "nice": false, "zero": false}, "axis": {"values": [0, 100, 200], "title": ["Cases by", "date of infection"], "titleX": -248, "titleY": 527.5, "titleAngle": 270, "titleAlign": "center", "titleBaseline": "middle", "titleLineHeight": 69}}
          }
        },
        {
          "data": {"name": "inf"},
          "mark": {"type": "area", "opacity": 0.2, "interpolate": "monotone"},
          "encoding": {
            "x": {"field": "date", "type": "temporal", "scale": {"type": "utc", "domain": [{"year": 2020, "month": 12, "date": 1, "hours": 16, "minutes": 48, "utc": true}, {"year": 2021, "month": 4, "date": 19, "hours": 7, "minutes": 12, "utc": true}]}, "axis": {"labels": false, "ticks": false, "title": null}},
            "y": {"field": "u90", "type": "quantitative", "scale": {"domain": [-13.65, 286.65], "nice": false, "zero": false}, "axis": {"values": [0, 100, 200], "title": ["Cases by", "date of infection"], "titleX": -248, "titleY": 527.5, "titleAngle": 270, "titleAlign": "center", "titleBaseline": "middle", "titleLineHeight": 69}},
            "y2": {"field": "l90"},
            "color": {"field": "type", "type": "nominal", "scale": {"domain": ["Estimate", "Estimate based on partial data"], "range": ["#1b9e77", "#d95f02"]}, "legend": null}
          }
        },
        {
          "data": {"name": "inf"},
          "mark": {"type": "area", "opacity": 0.3, "interpolate": "monotone"},
          "encoding": {
            "x": {"field": "date", "type": "temporal", "scale": {"type": "utc", "domain": [{"year": 2020, "month": 12, "date": 1, "hours": 16, "minutes": 48, "utc": true}, {"year": 2021, "month": 4, "date": 19, "hours": 7, "minutes": 12, "utc": true}]}, "axis": {"labels": false, "ticks": false, "title": null}},
            "y": {"field": "u50", "type": "quantitative", "scale": {"domain": [-13.65, 286.65], "nice": false, "zero": false}, "axis": {"values": [0, 100, 200], "title": ["Cases by", "date of infection"], "titleX": -248, "titleY": 527.5, "titleAngle": 270, "titleAlign": "center", "titleBaseline": "middle", "titleLineHeight": 69}},
            "y2": {"field": "l50"},
            "color": {"field": "type", "type": "nominal", "scale": {"domain": ["Estimate", "Estimate based on partial data"], "range": ["#1b9e77", "#d95f02"]}, "legend": null}
          }
        },
        {
          "data": {"name": "inf"},
          "mark": {"type": "area", "opacity": 0.3, "interpolate": "monotone"},
          "encoding": {
            "x": {"field": "date", "type": "temporal", "scale": {"type": "utc", "domain": [{"year": 2020, "month": 12, "date": 1, "hours": 16, "minutes": 48, "utc": true}, {"year": 2021, "month": 4, "date": 19, "hours": 7, "minutes": 12, "utc": true}]}, "axis": {"labels": false, "ticks": false, "title": null}},
            "y": {"field": "u20", "type": "quantitative", "scale": {"domain": [-13.65, 286.65], "nice": false, "zero": false}, "axis": {"values": [0, 100, 200], "title": ["Cases by", "date of infection"], "titleX": -248, "titleY": 527.5, "titleAngle": 270, "titleAlign": "center", "titleBaseline": "middle", "titleLineHeight": 69}},
            "y2": {"field": "l20"},
            "color": {"field": "type", "type": "nominal", "scale": {"domain": ["Estimate", "Estimate based on partial data"], "range": ["#1b9e77", "#d95f02"]}, "legend": null}
          }
        },
        {
          "data": {"name": "inf"},
          "mark": {"type": "line", "strokeWidth": 1.5, "opacity": 0.7, "interpolate": "monotone"},
          "encoding": {
            "x": {"field": "date", "type": "temporal", "scale": {"type": "utc", "domain": [{"year": 2020, "month": 12, "date": 1, "hours": 16, "minutes": 48, "utc": true}, {"year": 2021, "month": 4, "date": 19, "hours": 7, "minutes": 12, "utc": true}]}, "axis": {"labels": false, "ticks": false, "title": null}},
            "y": {"field": "u90", "type": "quantitative", "scale": {"domain": [-13.65, 286.65], "nice": false, "zero": false}, "axis": {"values": [0, 100, 200], "title": ["Cases by", "date of infection"], "titleX": -248, "titleY": 527.5, "titleAngle": 270, "titleAlign": "center", "titleBaseline": "middle", "titleLineHeight": 69}},
            "color": {"field": "type", "type": "nominal", "scale": {"domain": ["Estimate", "Estimate based on partial data"], "range": ["#1b9e77", "#d95f02"]}, "legend": null}
          }
        },
        {
          "data": {"name": "inf"},
          "mark": {"type": "line", "strokeWidth": 1.5, "opacity": 0.7, "interpolate": "monotone"},
          "encoding": {
            "x": {"field": "date", "type": "temporal", "scale": {"type": "utc", "domain": [{"year": 2020, "month": 12, "date": 1, "hours": 16, "minutes": 48, "utc": true}, {"year": 2021, "month": 4, "date": 19, "hours": 7, "minutes": 12, "utc": true}]}, "axis": {"labels": false, "ticks": false, "title": null}},
            "y": {"field": "l90", "type": "quantitative", "scale": {"domain": [-13.65, 286.65], "nice": false, "zero": false}, "axis": {"values": [0, 100, 200], "title": ["Cases by", "date of infection"], "titleX": -248, "titleY": 527.5, "titleAngle": 270, "titleAlign": "center", "titleBaseline": "middle", "titleLineHeight": 69}},
            "color": {"field": "type", "type": "nominal", "scale": {"domain": ["Estimate", "Estimate based on partial data"], "range": ["#1b9e77", "#d95f02"]}, "legend": null}
          }
        },
        {
          "data": {"name": "last"},
          "mark": {"type": "rule", "color": "black", "strokeWidth": 4, "strokeDash": [30, 15]},
          "encoding": {"x": {"field": "date", "type": "temporal", "scale": {"type": "utc", "domain": [{"year": 2020, "month": 12, "date": 1, "hours": 16, "minutes": 48, "utc": true}, {"year": 2021, "month": 4, "date": 19, "hours": 7, "minutes": 12, "utc": true}]}, "axis": {"labels": false, "ticks": false, "title": null}}}
        }
      ]
    },
    {
      "width": 3454,
      "height": 1055,
      "title": {"text": "C", "anchor": "start", "frame": "bounds", "fontSize": 60, "fontWeight": "bold", "offset": -34},
      "layer": [
        {
          "data": {"name": "rt"},
          "mark": {"type": "area", "opacity": 0.2, "interpolate": "monotone"},
          "encoding": {
            "x": {"field": "date", "type": "temporal", "scale": {"type": "utc", "domain": [{"year": 2020, "month": 12, "date": 1, "hours": 16, "minutes": 48, "utc": true}, {"year": 2021, "month": 4, "date": 19, "hours": 7, "minutes": 12, "utc": true}]}, "axis": {"title": "Date", "format": "%b %d", "labelAngle": 270, "labelAlign": "right", "labelBaseline": "middle", "tickCount": {"interval": "week", "step": 1}, "labelOverlap": false, "labelFlush": false, "labelBound": false, "titlePadding": 18}},
            "y": {"field": "u90", "type": "quantitative", "scale": {"domain": [-0.067, 1.407], "nice": false, "zero": false}, "axis": {"values": [0, 0.5, 1], "format": ".2f", "title": ["Effective", "reproduction no."], "titleX": -248, "titleY": 527.5, "titleAngle": 270, "titleAlign": "center", "titleBaseline": "middle", "titleLineHeight": 69}},
            "y2": {"field": "l90"},
            "color": {
              "field": "type", "type": "nominal",
              "scale": {"domain": ["Estimate", "Estimate based on partial data"], "range": ["#1b9e77", "#d95f02"]},
              "legend": {
                "title": "Type", "orient": "none", "legendX": 0, "legendY": 1400, "direction": "horizontal", "titleOrient": "left",
                "titleFontSize": 62, "titleFontWeight": "normal", "titleColor": "black", "titlePadding": 34,
                "labelFontSize": 52, "labelColor": "black", "labelOffset": 30, "columnPadding": 36, "labelLimit": 2000,
                "symbolType": "square", "symbolSize": 3600, "symbolStrokeWidth": 5, "symbolOpacity": 0.77
              }
            }
          }
        },
        {
          "data": {"name": "rt"},
          "mark": {"type": "area", "opacity": 0.3, "interpolate": "monotone"},
          "encoding": {
            "x": {"field": "date", "type": "temporal", "scale": {"type": "utc", "domain": [{"year": 2020, "month": 12, "date": 1, "hours": 16, "minutes": 48, "utc": true}, {"year": 2021, "month": 4, "date": 19, "hours": 7, "minutes": 12, "utc": true}]}, "axis": {"title": "Date", "format": "%b %d", "labelAngle": 270, "labelAlign": "right", "labelBaseline": "middle", "tickCount": {"interval": "week", "step": 1}, "labelOverlap": false, "labelFlush": false, "labelBound": false, "titlePadding": 18}},
            "y": {"field": "u50", "type": "quantitative", "scale": {"domain": [-0.067, 1.407], "nice": false, "zero": false}, "axis": {"values": [0, 0.5, 1], "format": ".2f", "title": ["Effective", "reproduction no."], "titleX": -248, "titleY": 527.5, "titleAngle": 270, "titleAlign": "center", "titleBaseline": "middle", "titleLineHeight": 69}},
            "y2": {"field": "l50"},
            "color": {"field": "type", "type": "nominal", "scale": {"domain": ["Estimate", "Estimate based on partial data"], "range": ["#1b9e77", "#d95f02"]}}
          }
        },
        {
          "data": {"name": "rt"},
          "mark": {"type": "area", "opacity": 0.3, "interpolate": "monotone"},
          "encoding": {
            "x": {"field": "date", "type": "temporal", "scale": {"type": "utc", "domain": [{"year": 2020, "month": 12, "date": 1, "hours": 16, "minutes": 48, "utc": true}, {"year": 2021, "month": 4, "date": 19, "hours": 7, "minutes": 12, "utc": true}]}, "axis": {"title": "Date", "format": "%b %d", "labelAngle": 270, "labelAlign": "right", "labelBaseline": "middle", "tickCount": {"interval": "week", "step": 1}, "labelOverlap": false, "labelFlush": false, "labelBound": false, "titlePadding": 18}},
            "y": {"field": "u20", "type": "quantitative", "scale": {"domain": [-0.067, 1.407], "nice": false, "zero": false}, "axis": {"values": [0, 0.5, 1], "format": ".2f", "title": ["Effective", "reproduction no."], "titleX": -248, "titleY": 527.5, "titleAngle": 270, "titleAlign": "center", "titleBaseline": "middle", "titleLineHeight": 69}},
            "y2": {"field": "l20"},
            "color": {"field": "type", "type": "nominal", "scale": {"domain": ["Estimate", "Estimate based on partial data"], "range": ["#1b9e77", "#d95f02"]}}
          }
        },
        {
          "data": {"name": "rt"},
          "mark": {"type": "line", "strokeWidth": 1.5, "opacity": 0.7, "interpolate": "monotone"},
          "encoding": {
            "x": {"field": "date", "type": "temporal", "scale": {"type": "utc", "domain": [{"year": 2020, "month": 12, "date": 1, "hours": 16, "minutes": 48, "utc": true}, {"year": 2021, "month": 4, "date": 19, "hours": 7, "minutes": 12, "utc": true}]}, "axis": {"title": "Date", "format": "%b %d", "labelAngle": 270, "labelAlign": "right", "labelBaseline": "middle", "tickCount": {"interval": "week", "step": 1}, "labelOverlap": false, "labelFlush": false, "labelBound": false, "titlePadding": 18}},
            "y": {"field": "u90", "type": "quantitative", "scale": {"domain": [-0.067, 1.407], "nice": false, "zero": false}, "axis": {"values": [0, 0.5, 1], "format": ".2f", "title": ["Effective", "reproduction no."], "titleX": -248, "titleY": 527.5, "titleAngle": 270, "titleAlign": "center", "titleBaseline": "middle", "titleLineHeight": 69}},
            "color": {"field": "type", "type": "nominal", "scale": {"domain": ["Estimate", "Estimate based on partial data"], "range": ["#1b9e77", "#d95f02"]}}
          }
        },
        {
          "data": {"name": "rt"},
          "mark": {"type": "line", "strokeWidth": 1.5, "opacity": 0.7, "interpolate": "monotone"},
          "encoding": {
            "x": {"field": "date", "type": "temporal", "scale": {"type": "utc", "domain": [{"year": 2020, "month": 12, "date": 1, "hours": 16, "minutes": 48, "utc": true}, {"year": 2021, "month": 4, "date": 19, "hours": 7, "minutes": 12, "utc": true}]}, "axis": {"title": "Date", "format": "%b %d", "labelAngle": 270, "labelAlign": "right", "labelBaseline": "middle", "tickCount": {"interval": "week", "step": 1}, "labelOverlap": false, "labelFlush": false, "labelBound": false, "titlePadding": 18}},
            "y": {"field": "l90", "type": "quantitative", "scale": {"domain": [-0.067, 1.407], "nice": false, "zero": false}, "axis": {"values": [0, 0.5, 1], "format": ".2f", "title": ["Effective", "reproduction no."], "titleX": -248, "titleY": 527.5, "titleAngle": 270, "titleAlign": "center", "titleBaseline": "middle", "titleLineHeight": 69}},
            "color": {"field": "type", "type": "nominal", "scale": {"domain": ["Estimate", "Estimate based on partial data"], "range": ["#1b9e77", "#d95f02"]}}
          }
        },
        {
          "data": {"name": "one"},
          "mark": {"type": "rule", "color": "black", "strokeWidth": 4, "strokeDash": [30, 15]},
          "encoding": {"y": {"field": "r", "type": "quantitative", "scale": {"domain": [-0.067, 1.407], "nice": false, "zero": false}, "axis": {"values": [0, 0.5, 1], "format": ".2f", "title": ["Effective", "reproduction no."], "titleX": -248, "titleY": 527.5, "titleAngle": 270, "titleAlign": "center", "titleBaseline": "middle", "titleLineHeight": 69}}}
        },
        {
          "data": {"name": "last"},
          "mark": {"type": "rule", "color": "black", "strokeWidth": 4, "strokeDash": [30, 15]},
          "encoding": {"x": {"field": "date", "type": "temporal", "scale": {"type": "utc", "domain": [{"year": 2020, "month": 12, "date": 1, "hours": 16, "minutes": 48, "utc": true}, {"year": 2021, "month": 4, "date": 19, "hours": 7, "minutes": 12, "utc": true}]}, "axis": {"title": "Date", "format": "%b %d", "labelAngle": 270, "labelAlign": "right", "labelBaseline": "middle", "tickCount": {"interval": "week", "step": 1}, "labelOverlap": false, "labelFlush": false, "labelBound": false, "titlePadding": 18}}}
        }
      ]
    }
  ]
}
